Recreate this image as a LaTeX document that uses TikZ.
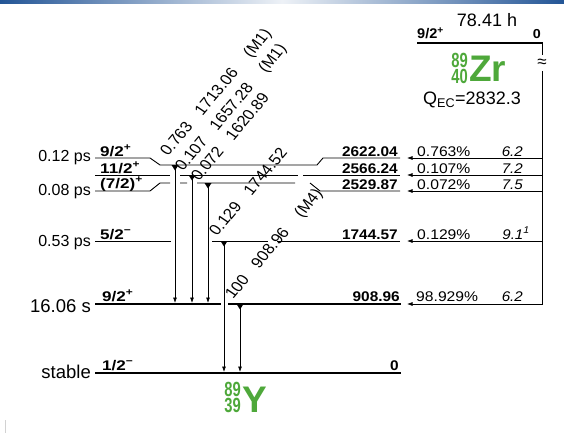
\documentclass[tikz,border=0pt]{standalone}
\usepackage{fontspec}
\setmainfont{Liberation Sans}
\usetikzlibrary{arrows.meta}
\definecolor{nucgreen}{RGB}{78,168,58}
\definecolor{barblue}{RGB}{35,85,150}
\newcommand{\fs}[1]{\fontsize{#1}{#1}\selectfont}

\begin{document}
\begin{tikzpicture}[x=1pt,y=-1pt,>={Latex[length=5.5pt,width=4pt]},
  level/.style={line width=0.9pt},
  mainlevel/.style={line width=2.4pt},
  trans/.style={line width=0.7pt,->},
  spin/.style={anchor=base west,inner sep=0pt,xscale=1.22,font=\fs{14}\bfseries},
  energy/.style={anchor=base east,inner sep=0pt,xscale=1.1,font=\fs{14}\bfseries},
  life/.style={anchor=base east,inner sep=0pt,font=\fs{16}},
  branch/.style={anchor=base west,inner sep=0pt,xscale=1.12,font=\fs{14}},
  logft/.style={anchor=base east,inner sep=0pt,xscale=1.08,font=\fs{14}\itshape},
  gamma/.style={anchor=base west,inner sep=0pt,xscale=1.12,rotate=53,font=\fs{15}},
  nuc/.style={inner sep=0pt,text=nucgreen,font=\fs{37}\bfseries},
  nucnum/.style={inner sep=0pt,text=nucgreen,xscale=0.72,font=\fs{20.5}\bfseries}]
  \useasboundingbox (0,0) rectangle (564,433);
  \shade[left color=barblue,right color=barblue,middle color=barblue!8] (0,0) rectangle (564,4);
  \draw[gray!35,line width=0.6pt] (5,420) -- (5,433);

  % parent 89Zr
  \draw[mainlevel] (417,43) -- (543,43);
  \node[spin,xscale=0.85] (zrspin) at (417,39) {9/2\textsuperscript{+}};
  \node[energy,font=\fs{13}\bfseries] (zren) at (541,39) {0};
  \node[font=\fs{18}] (zrlife) at (487,20) {78.41 h};
  \node[nucnum,anchor=south east] (zrmass) at (468,68) {89};
  \node[nucnum,anchor=north east] (zrcharge) at (468,69) {40};
  \node[nuc,anchor=west] (zr) at (469,69) {Zr};
  \node[font=\fs{18}] (qec) at (472,100) {Q\textsubscript{EC}=2832.3};

  % EC feeding
  \coordinate (spinetop) at (542,43);
  \node[font=\fs{17},inner sep=0pt] (brk) at (542,63) {≈};
  \draw[level] (spinetop) -- (542,55);
  \coordinate (spine) at (542,71);
  \foreach \y in {158,175,191,241}
    \draw[trans] (spine |- 0,\y) -- (407,\y);
  \draw[trans] (spine) -- (542,304) -- (407,304);

  % levels of 89Y
  \draw[level] (95,158) -- (150,158) -- (160,165) -- (317,165) -- (323,158) -- (400,158);
  \draw[level] (95,175) -- (170,175) (180,175) -- (298,175) (303,175) -- (400,175);
  \draw[level] (95,191) -- (150,191) -- (160,183) -- (170,183) (180,183) -- (187,183)
    (197,183) -- (295,183) (310,183) -- (320,191) -- (400,191);
  \draw[level] (95,241) -- (171,241) (212,241) -- (268,241) (277,241) -- (400,241);
  \draw[mainlevel] (95,304) -- (221,304) (228,304) -- (401,304);
  \draw[mainlevel] (95,373) -- (401,373);

  % gamma transitions
  \foreach \x/\y/\z in {175/165/303,192/175/303,208/183/303,224/241/372,240/304/372} {
    \coordinate (top\x) at (\x,\y);
    \coordinate (bot\x) at (\x,\z);
    \fill (\x-3.5,\y) -- (\x+3.5,\y) -- (\x,\y+5.5) -- cycle;
    \draw[trans] (top\x) -- (bot\x);
  }
  \node[gamma] (g1713) at (168,157) {0.763\hspace{0.9em}1713.06\hspace{1.2em}(M1)};
  \node[gamma] (g1657) at (183,172) {0.107\hspace{0.9em}1657.28\hspace{1.2em}(M1)};
  \node[gamma] (g1620) at (199,182) {0.072\hspace{0.9em}1620.89};
  \node[gamma] (g1744) at (217,237) {0.129\hspace{0.9em}1744.52};
  \node[gamma] (g908) at (233,300) {100\hspace{0.9em}908.96\hspace{1.2em}(M4)};

  % half-lives
  \node[life] (life1) at (91,161) {0.12 ps};
  \node[life] (life2) at (91,195) {0.08 ps};
  \node[life] (life3) at (91,246) {0.53 ps};
  \node[life,font=\fs{18.5}] (life4) at (91,312) {16.06 s};
  \node[life,font=\fs{18.5}] (life5) at (91,378) {stable};

  % spins
  \node[spin] (spin1) at (100,156) {9/2\textsuperscript{+}};
  \node[spin] (spin2) at (100,173) {11/2\textsuperscript{+}};
  \node[spin] (spin3) at (100,188) {(7/2)\textsuperscript{+}};
  \node[spin] (spin4) at (100,239) {5/2\textsuperscript{−}};
  \node[spin] (spin5) at (102,301) {9/2\textsuperscript{+}};
  \node[spin] (spin6) at (102,370) {1/2\textsuperscript{−}};

  % energies
  \node[energy] (e2622) at (398,156) {2622.04};
  \node[energy] (e2566) at (398,173) {2566.24};
  \node[energy] (e2529) at (398,189) {2529.87};
  \node[energy] (e1744) at (398,239) {1744.57};
  \node[energy] (e908) at (400,301) {908.96};
  \node[energy] (e0) at (399,370) {0};

  % branchings and log ft
  \node[branch] (b2622) at (417,156) {0.763\%};
  \node[branch] (b2566) at (417,173) {0.107\%};
  \node[branch] (b2529) at (417,189) {0.072\%};
  \node[branch] (b1744) at (417,239) {0.129\%};
  \node[branch] (b908) at (416,301) {98.929\%};
  \node[logft] (f2622) at (523,156) {6.2};
  \node[logft] (f2566) at (523,173) {7.2};
  \node[logft] (f2529) at (523,189) {7.5};
  \node[logft] (f1744) at (530,239) {9.1\textsuperscript{1}};
  \node[logft] (f908) at (523,301) {6.2};

  % daughter 89Y
  \node[nucnum,anchor=south east] (ymass) at (241,397) {89};
  \node[nucnum,anchor=north east] (ycharge) at (241,398) {39};
  \node[nuc,anchor=west] (y) at (242,400) {Y};
\end{tikzpicture}
\end{document}
